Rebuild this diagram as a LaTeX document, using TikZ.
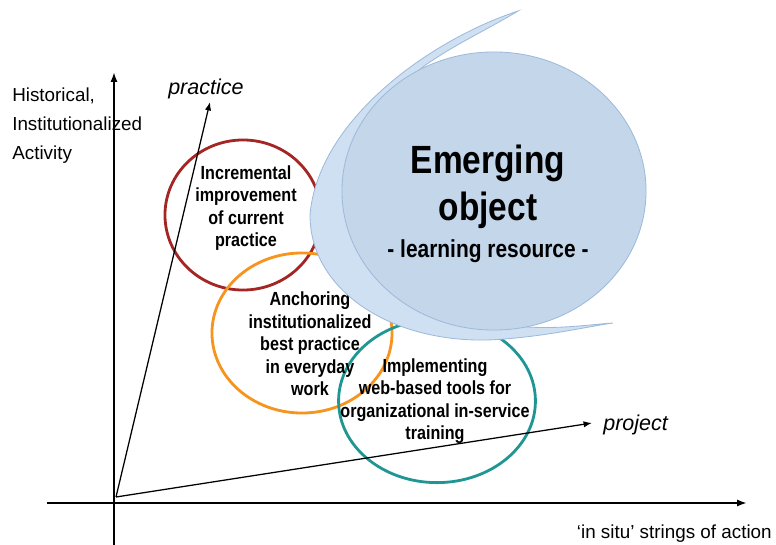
\documentclass[tikz,border=0pt]{standalone}
\usepackage{fontspec}
\setmainfont{Liberation Sans}
\newfontfamily\narrowfont{Liberation Sans}[FakeStretch=0.85]
\usepackage{tikz}
\usepackage{xcolor}
\usetikzlibrary{shapes.geometric, arrows.meta, positioning}
\definecolor{cRed}{RGB}{163,38,36}
\definecolor{cOrange}{RGB}{247,148,30}
\definecolor{cTeal}{RGB}{32,150,148}
\definecolor{cBlob}{RGB}{196,214,234}
\definecolor{cMoon}{RGB}{207,224,243}
\definecolor{cBlobEdge}{RGB}{158,186,218}
\tikzset{
	axis/.style     ={-{Latex[length=7pt, width=5pt]}, line width=1.6pt},
	dirline/.style  ={-{Latex[length=6pt, width=4.5pt]}, line width=0.9pt},
	axlabel/.style  ={inner sep=0pt, align=left, font=\fontsize{13.4}{20.6}\selectfont},
	dirlabel/.style ={inner sep=0pt, font=\fontsize{15.3}{18}\selectfont\itshape},
	% overlapping rings of activity
	ring/.style     ={ellipse, draw, line width=2pt, inner sep=0pt},
	ringtext/.style ={inner sep=0pt, align=center, font=\narrowfont\fontsize{13.5}{16}\selectfont\bfseries},
	% the emerging object
	moon/.style     ={fill=cMoon, draw=cBlobEdge, line width=0.6pt},
	blob/.style     ={ellipse, fill=cBlob, draw=cBlobEdge, line width=0.6pt, inner sep=0pt, minimum width=7.6cm, minimum height=6.95cm},
	bigtitle/.style ={inner sep=0pt, font=\narrowfont\fontsize{28}{34}\selectfont\bfseries},
	subtitle/.style ={inner sep=0pt, font=\narrowfont\fontsize{17.5}{21}\selectfont\bfseries},
}

\begin{document}
\begin{tikzpicture}[x=0.025cm, y=-0.025cm]
	\useasboundingbox (0,0) rectangle (776,545);
	\node[axlabel, anchor=north west] (hist) at (12,88) {Historical,\\Institutionalized\\Activity};
	\node[axlabel, anchor=base east] (insitu) at (772,538) {`in situ' strings of action};

	\coordinate (xl) at (47,503);
	\coordinate (xr) at (747,503);
	\coordinate (yb) at (114,545);
	\coordinate (yt) at (114,72);
	\coordinate (o) at (116,497);
	\coordinate (pr) at (210,102);
	\coordinate (pj) at (592,423);

	\node[ring, draw=cRed, minimum width=3.9cm, minimum height=3.75cm] (incr) at (243,215) {};
	\node[ring, draw=cOrange, minimum width=4.5cm, minimum height=4cm] (anch) at (302,333) {};
	\node[ring, draw=cTeal, minimum width=4.92cm, minimum height=4.08cm] (impl) at (437,401) {};

	\node[ringtext] (incrtxt) at (246,208) {Incremental\\improvement\\of current\\practice};
	\node[ringtext] (anchtxt) at (310,344) {Anchoring\\institutionalized\\best practice\\in everyday\\work};
	\node[ringtext] (impltxt) at (435,401) {Implementing\\web-based tools for\\organizational in-service\\training};

	\draw[axis] (xl) -- (xr);
	\draw[axis] (yb) -- (yt);
	\draw[dirline] (o) -- (pr);
	\draw[dirline] (o) -- (pj);
	\node[dirlabel, anchor=base west] (prlab) at (168,95) {practice};
	\node[dirlabel, anchor=base west] (pjlab) at (603,430) {project};

	\filldraw[moon] (518,11) .. controls (430,40) and (318,120) .. (310,215)
		.. controls (310,290) and (390,342) .. (487,340)
		.. controls (540,338) and (590,326) .. (613,323)
		.. controls (585,325) and (555,330) .. (515,326)
		.. controls (420,300) and (352,270) .. (350,210)
		.. controls (352,140) and (400,80) .. (433,60)
		.. controls (460,42) and (490,28) .. (518,11) -- cycle;
	\node[blob] (eobj) at (494,191) {};
	\node[bigtitle, anchor=base] (emerg) at (488,173) {Emerging};
	\node[bigtitle, anchor=base] (objt) at (488,220) {object};
	\node[subtitle, anchor=base] (lres) at (488,257) {- learning resource -};
\end{tikzpicture}
\end{document}
